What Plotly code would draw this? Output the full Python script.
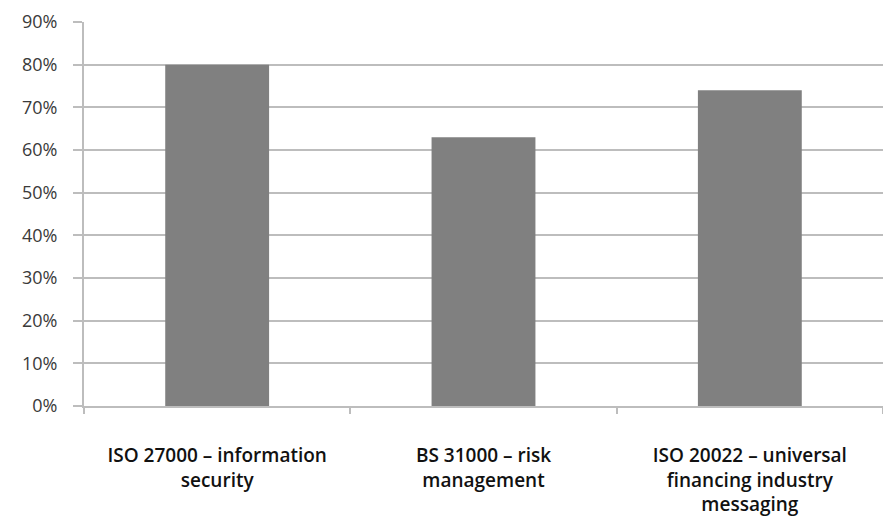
import plotly.graph_objects as go

categories = [
    "ISO 27000 – information<br>security",
    "BS 31000 – risk<br>management",
    "ISO 20022 – universal<br>financing industry<br>messaging",
]
shares = [0.80, 0.63, 0.74]
y_ticks = [i / 10 for i in range(10)]

fig = go.Figure(
    go.Bar(
        x=categories,
        y=shares,
        marker=dict(color="#808080", line=dict(width=0)),
        width=0.39,
    )
)

grid = "#bdbdbd"
fig.update_layout(
    width=883,
    height=520,
    margin=dict(l=84, r=0, t=22, b=114),
    plot_bgcolor="white",
    paper_bgcolor="white",
    showlegend=False,
    font=dict(family="Open Sans, Liberation Sans, sans-serif", color="#222222"),
)
fig.update_yaxes(
    range=[0, 0.9],
    tickvals=y_ticks,
    tickformat=".0%",
    showgrid=True,
    gridcolor=grid,
    gridwidth=2,
    ticks="outside",
    ticklen=9,
    tickcolor=grid,
    tickwidth=2,
    showline=True,
    linecolor=grid,
    linewidth=2,
    zeroline=False,
    tickfont=dict(size=18, color="#3a3a3a"),
    ticklabelstandoff=12,
    automargin=False,
)
fig.update_xaxes(
    range=[-0.5, 2.5],
    tickson="boundaries",
    ticks="outside",
    ticklen=6,
    tickcolor=grid,
    tickwidth=2,
    showline=True,
    linecolor=grid,
    linewidth=2,
    showgrid=False,
    tickfont=dict(size=19, color="#111111", weight=600),
    tickangle=0,
    ticklabelstandoff=31,
    automargin=False,
)

fig.write_html("out.html")
